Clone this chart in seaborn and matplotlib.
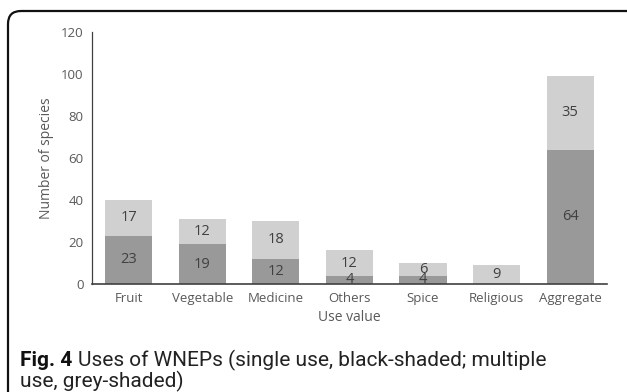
import matplotlib
matplotlib.use("Agg")
import matplotlib.pyplot as plt
from matplotlib.patches import FancyBboxPatch
import seaborn as sns
import pandas as pd

categories = ["Fruit", "Vegetable", "Medicine", "Others", "Spice", "Religious", "Aggregate"]
single_use = [23, 19, 12, 4, 4, 0, 64]
multiple_use = [17, 12, 18, 12, 6, 9, 35]
y_ticks = [0, 20, 40, 60, 80, 100, 120]

sns.set_theme(style="white")
plt.rcParams["font.family"] = ["Open Sans", "DejaVu Sans"]

df = pd.DataFrame({"use": categories, "single": single_use, "multiple": multiple_use})
df["total"] = df["single"] + df["multiple"]

W, H = 6.27, 3.92
fig = plt.figure(figsize=(W, H), dpi=100)
ax = fig.add_axes([0.1467, 0.2755, 0.8213, 0.6425])

text_col = "#595959"
dark = "#999999"
light = "#d0d0d0"

sns.barplot(data=df, x="use", y="total", color=light, saturation=1, width=0.64,
            linewidth=0, ax=ax)
sns.barplot(data=df, x="use", y="single", color=dark, saturation=1, width=0.64,
            linewidth=0, ax=ax)

tot_bars = ax.containers[0]
sin_bars = ax.containers[1]
ax.bar_label(sin_bars, labels=[str(v) if v else "" for v in single_use],
             label_type="center", color="#404040", fontsize=10.5)
for bar, s, m in zip(tot_bars, single_use, multiple_use):
    ax.text(bar.get_x() + bar.get_width() / 2, s + m / 2, str(m),
            ha="center", va="center", color="#404040", fontsize=10.5)

ax.set_ylim(0, 120)
ax.set_yticks(y_ticks)
ax.set_xlim(-0.5, len(categories) - 0.5)
ax.tick_params(axis="both", length=0, colors=text_col, labelsize=9.5, pad=6)
ax.set_xlabel("Use value", color=text_col, fontsize=10, labelpad=3)
ax.set_ylabel("Number of species", color=text_col, fontsize=10, labelpad=5)
for side in ["top", "right"]:
    ax.spines[side].set_visible(False)
ax.spines["left"].set_color("#404040")
ax.spines["bottom"].set_color("#404040")
ax.spines["left"].set_linewidth(0.9)
ax.spines["bottom"].set_linewidth(1.2)

# rounded outer panel, running past the right and bottom edges
frame = FancyBboxPatch((8 / 100, -0.3), (640 - 8) / 100, H - 11 / 100 + 0.3,
                       boxstyle="round,pad=0,rounding_size=0.13",
                       transform=fig.dpi_scale_trans, fill=False,
                       edgecolor="#111111", linewidth=1.6, clip_on=False)
fig.patches.append(frame)

cap_font = ["Roboto", "DejaVu Sans"]
cap_size = 15
y1, y2 = 1 - 360 / 392, 1 - 381 / 392
fig.text(20 / 627, y1, "Fig. 4", fontsize=cap_size, fontweight="bold",
         color="#111111", va="center", family=cap_font)
fig.text(78 / 627, y1,
         "Uses of WNEPs (single use, black-shaded; multiple", fontsize=cap_size,
         color="#222222", va="center", family=cap_font)
fig.text(20 / 627, y2, "use, grey-shaded)", fontsize=cap_size,
         color="#222222", va="center", family=cap_font)

fig.savefig("out.png", dpi=100)
